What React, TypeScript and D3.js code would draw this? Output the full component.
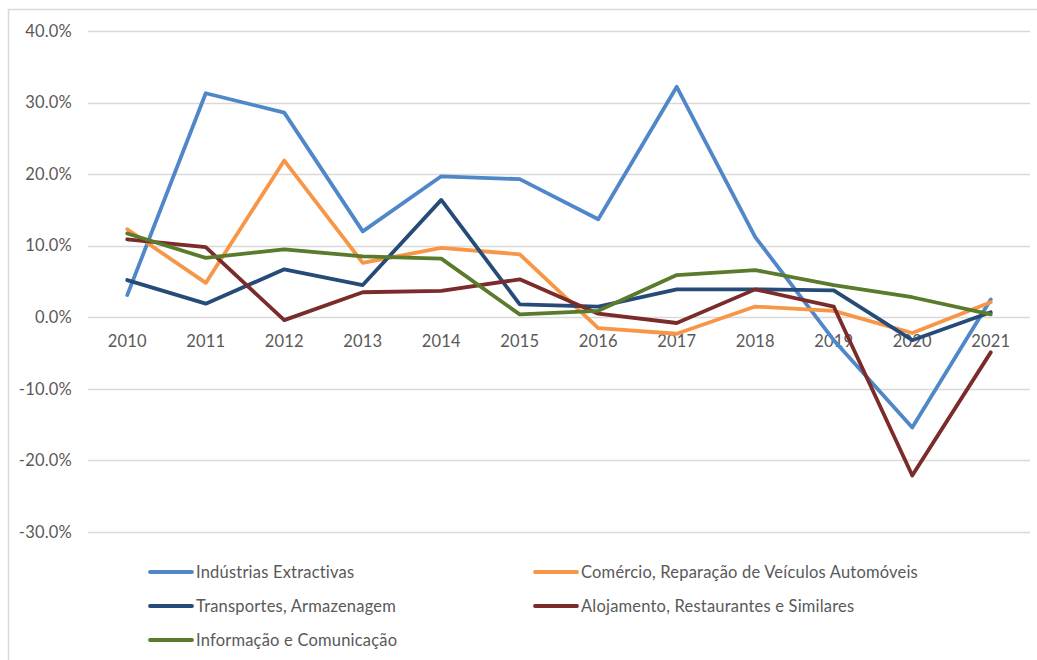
import { line, scaleBand, scaleLinear } from "d3";

const WIDTH = 1037;
const HEIGHT = 660;

const years = ["2010", "2011", "2012", "2013", "2014", "2015", "2016", "2017", "2018", "2019", "2020", "2021"];
const yTicks = [-0.3, -0.2, -0.1, 0, 0.1, 0.2, 0.3, 0.4];

const seriesNames = [
  "Indústrias Extractivas",
  "Comércio, Reparação de Veículos Automóveis",
  "Transportes, Armazenagem",
  "Alojamento, Restaurantes e Similares",
  "Informação e Comunicação",
];
const seriesColors = ["#4F87C8", "#F79646", "#264B78", "#7B2B2A", "#5A7A2C"];

const industrias = [3.1, 31.3, 28.6, 12.0, 19.7, 19.3, 13.7, 32.2, 11.2, -3.2, -15.4, 2.5];
const comercio = [12.3, 4.8, 21.9, 7.6, 9.7, 8.8, -1.5, -2.3, 1.5, 0.9, -2.2, 2.1];
const transportes = [5.2, 1.9, 6.7, 4.5, 16.4, 1.8, 1.5, 3.9, 3.9, 3.75, -3.2, 0.7];
const alojamento = [10.9, 9.8, -0.4, 3.5, 3.7, 5.3, 0.5, -0.8, 3.9, 1.5, -22.1, -4.9];
const informacao = [11.7, 8.3, 9.5, 8.5, 8.2, 0.4, 0.9, 5.9, 6.6, 4.5, 2.8, 0.4];

const allSeries = [industrias, comercio, transportes, alojamento, informacao];

const FONT = "Lato, 'Open Sans', sans-serif";
const FONT_SIZE = 16.5;
const TEXT_COLOR = "#595959";
const GRID_COLOR = "#D9D9D9";

export default function App() {
  const x = scaleBand<string>().domain(years).range([88, 1030]);
  const y = scaleLinear().domain([-0.3, 0.4]).range([532, 31]);
  const cx = (yr: string) => (x(yr) ?? 0) + x.bandwidth() / 2;

  const gen = line<number>()
    .x((_, i) => cx(years[i]))
    .y((d) => y(d / 100));

  const legendCols = [150, 535];
  const legendRows = [572, 606, 640];

  return (
    <svg
      width={WIDTH}
      height={HEIGHT}
      style={{ position: "absolute", left: 0, top: 0, background: "#fff" }}
    >
      <rect x={8.5} y={9.5} width={1100} height={700} fill="#fff" stroke={GRID_COLOR} strokeWidth={1.5} />

      {yTicks.map((t) => (
        <g key={t}>
          <line x1={88} x2={1030} y1={Math.round(y(t)) + 0.5} y2={Math.round(y(t)) + 0.5} stroke={GRID_COLOR} strokeWidth={1.5} />
          <text
            x={72}
            y={y(t)}
            dy="0.35em"
            textAnchor="end"
            fontFamily={FONT}
            fontSize={FONT_SIZE}
            letterSpacing={0.2}
            fill={TEXT_COLOR}
          >
            {(t * 100).toFixed(1) + "%"}
          </text>
        </g>
      ))}

      {years.map((yr) => (
        <text
          key={yr}
          x={cx(yr)}
          y={y(0) + 24}
          dy="0.35em"
          textAnchor="middle"
          fontFamily={FONT}
          fontSize={FONT_SIZE}
          letterSpacing={0.2}
          fill={TEXT_COLOR}
        >
          {yr}
        </text>
      ))}

      {allSeries.map((s, i) => (
        <path
          key={seriesNames[i]}
          d={gen(s) ?? ""}
          fill="none"
          stroke={seriesColors[i]}
          strokeWidth={3.8}
          strokeLinejoin="round"
          strokeLinecap="round"
        />
      ))}

      {seriesNames.map((name, i) => {
        const lx = legendCols[i % 2];
        const ly = legendRows[Math.floor(i / 2)];
        return (
          <g key={name}>
            <line x1={lx} x2={lx + 42} y1={ly} y2={ly} stroke={seriesColors[i]} strokeWidth={3.8} strokeLinecap="round" />
            <text
              x={lx + 46}
              y={ly}
              dy="0.35em"
              fontFamily={FONT}
              fontSize={FONT_SIZE}
              letterSpacing={0.2}
              fill={TEXT_COLOR}
            >
              {name}
            </text>
          </g>
        );
      })}
    </svg>
  );
}
